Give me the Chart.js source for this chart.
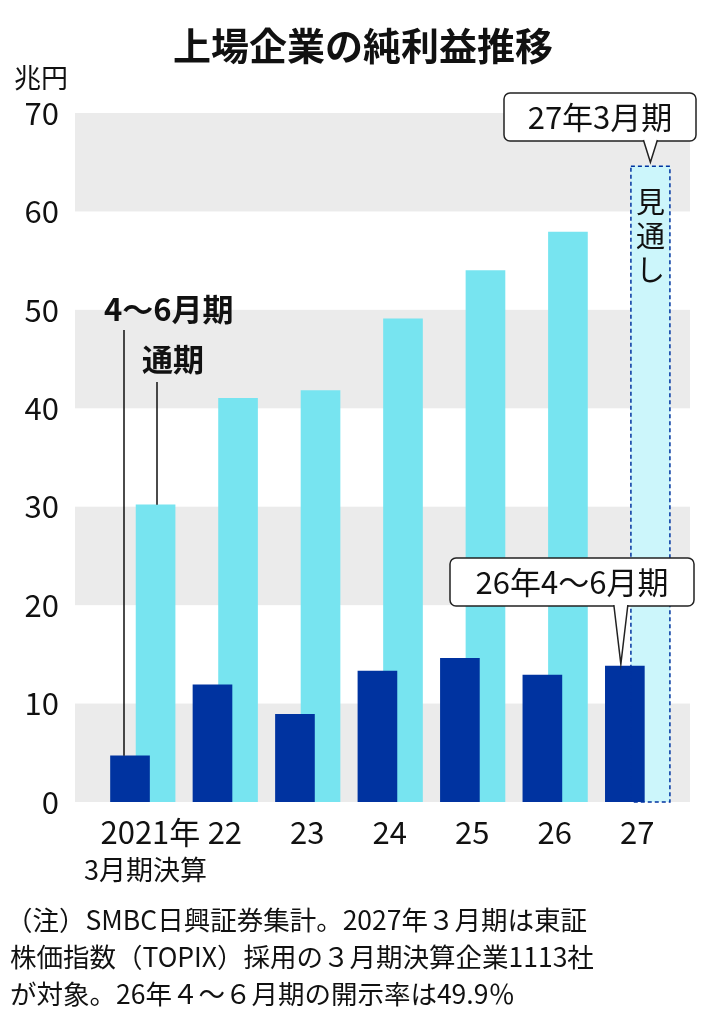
<!DOCTYPE html>
<html>
<head>
<meta charset="utf-8">
<script src="https://cdn.jsdelivr.net/npm/chart.js@4"></script>
<style>
  html, body { margin: 0; padding: 0; background: #fff; }
  #wrap { width: 726px; height: 1024px; position: relative; }
</style>
</head>
<body>
<div id="wrap"><canvas id="c" width="726" height="1024"></canvas></div>
<script>
// data (兆円)
const years = ['2021年', '22', '23', '24', '25', '26', '27'];
const quarterProfit = [4.7, 11.9, 8.9, 13.3, 14.6, 12.9, 13.8];   // 4~6月期
const fullYearProfit = [30.2, 41.0, 41.8, 49.1, 54.0, 57.9, 64.6]; // 通期 (27 = 見通し)
const yTicks = [0, 10, 20, 30, 40, 50, 60, 70];

const DARK = '#0033a0';
const LIGHT = '#77e4f0';
const FORECAST = '#ccf6fb';
const LIGHT_OFFSET = 0.31;
const FONT = '"Noto Sans CJK JP", "Noto Sans", sans-serif';

const darkPoints = quarterProfit.map((v, i) => ({ x: i, y: v }));
const lightPoints = fullYearProfit.map((v, i) => ({ x: i + LIGHT_OFFSET, y: v }));
const last = years.length - 1;

function label(ctx, text, x, y, size, align, weight) {
  ctx.font = (weight || 'normal') + ' ' + size + 'px ' + FONT;
  ctx.textAlign = align || 'left';
  ctx.textBaseline = 'middle';
  ctx.fillStyle = '#111';
  ctx.fillText(text, x, y);
}

function callout(ctx, text, cx, top, w, h, tipX, tipY) {
  const left = cx - w / 2;
  ctx.fillStyle = '#fff';
  ctx.strokeStyle = '#222';
  ctx.lineWidth = 1.5;
  ctx.beginPath();
  ctx.roundRect(left, top, w, h, 6);
  ctx.fill();
  ctx.stroke();
  // pointer
  ctx.beginPath();
  ctx.moveTo(tipX - 7, top + h - 1);
  ctx.lineTo(tipX, tipY);
  ctx.lineTo(tipX + 7, top + h - 1);
  ctx.fill();
  ctx.stroke();
  label(ctx, text, cx, top + h / 2, 31, 'center');
}

const bands = {
  id: 'bands',
  beforeDatasetsDraw(chart) {
    const { ctx, chartArea, scales } = chart;
    ctx.save();
    ctx.fillStyle = '#ebebeb';
    [[60, 70], [40, 50], [20, 30], [0, 10]].forEach(([a, b]) => {
      const y1 = scales.y.getPixelForValue(b);
      const y2 = scales.y.getPixelForValue(a);
      ctx.fillRect(chartArea.left, y1, chartArea.right - chartArea.left, y2 - y1);
    });
    ctx.restore();
  }
};

const notes = {
  id: 'notes',
  afterDraw(chart) {
    const { ctx, scales } = chart;
    const x = scales.x, y = scales.y;
    ctx.save();
    // dashed outline of forecast bar
    const bar = chart.getDatasetMeta(0).data[last];
    ctx.strokeStyle = DARK;
    ctx.lineWidth = 1.5;
    ctx.setLineDash([4, 3]);
    ctx.strokeRect(bar.x - bar.width / 2, bar.y, bar.width, bar.base - bar.y);
    ctx.setLineDash([]);

    // title + unit
    label(ctx, '上場企業の純利益推移', 363, 46, 38, 'center', 'bold');
    label(ctx, '兆円', 14, 78, 27, 'left');

    // x labels
    years.forEach((t, i) => {
      const px = x.getPixelForValue(i + 0.15) + (i === 0 ? 8 : 0);
      label(ctx, t, px, 832, 31, 'center');
    });
    label(ctx, '3月期決算', 84, 870, 27, 'left');

    // series labels with leader lines
    ctx.strokeStyle = '#111';
    ctx.lineWidth = 1.5;
    ctx.beginPath();
    ctx.moveTo(124, 330); ctx.lineTo(124, y.getPixelForValue(quarterProfit[0]));
    ctx.moveTo(157, 382); ctx.lineTo(157, y.getPixelForValue(fullYearProfit[0]));
    ctx.stroke();
    label(ctx, '4～6月期', 104, 309, 31, 'left', 'bold');
    label(ctx, '通期', 142, 359, 31, 'left', 'bold');

    // forecast text
    const fx = x.getPixelForValue(last + LIGHT_OFFSET);
    ['見', '通', 'し'].forEach((ch, k) => label(ctx, ch, fx, 202 + k * 34, 29, 'center'));

    // callouts
    callout(ctx, '27年3月期', 600, 93, 192, 48, fx, y.getPixelForValue(fullYearProfit[last]) - 4);
    const qx = x.getPixelForValue(last);
    callout(ctx, '26年4～6月期', 572, 558, 244, 48, qx - 4, y.getPixelForValue(quarterProfit[last]) - 2);

    // footnote
    label(ctx, '（注）SMBC日興証券集計。2027年３月期は東証', 6, 920, 26.5, 'left');
    label(ctx, '株価指数（TOPIX）採用の３月期決算企業1113社', 10, 957, 26.5, 'left');
    label(ctx, 'が対象。26年４～６月期の開示率は49.9％', 10, 994, 26.5, 'left');
    ctx.restore();
  }
};

new Chart(document.getElementById('c'), {
  type: 'bar',
  data: {
    datasets: [
      {
        label: '通期',
        data: lightPoints,
        backgroundColor: lightPoints.map((p, i) => i === last ? FORECAST : LIGHT),
        borderWidth: 0,
        barThickness: 39,
        grouped: false,
        order: 2
      },
      {
        label: '4～6月期',
        data: darkPoints,
        backgroundColor: DARK,
        barThickness: 39,
        grouped: false,
        order: 1
      }
    ]
  },
  options: {
    responsive: false,
    animation: false,
    layout: { padding: { top: 113, bottom: 222, right: 36, left: 0 } },
    plugins: { legend: { display: false }, tooltip: { enabled: false } },
    scales: {
      x: {
        type: 'linear',
        min: -0.667,
        max: 6.79,
        offset: false,
        display: false
      },
      y: {
        min: 0,
        max: 70,
        afterBuildTicks(s) { s.ticks = yTicks.map(v => ({ value: v })); },
        afterFit(s) { s.width = 75; },
        grid: { display: false },
        border: { display: false },
        ticks: { color: '#111', font: { size: 31, family: FONT }, padding: 8 }
      }
    }
  },
  plugins: [bands, notes]
});
</script>
</body>
</html>
